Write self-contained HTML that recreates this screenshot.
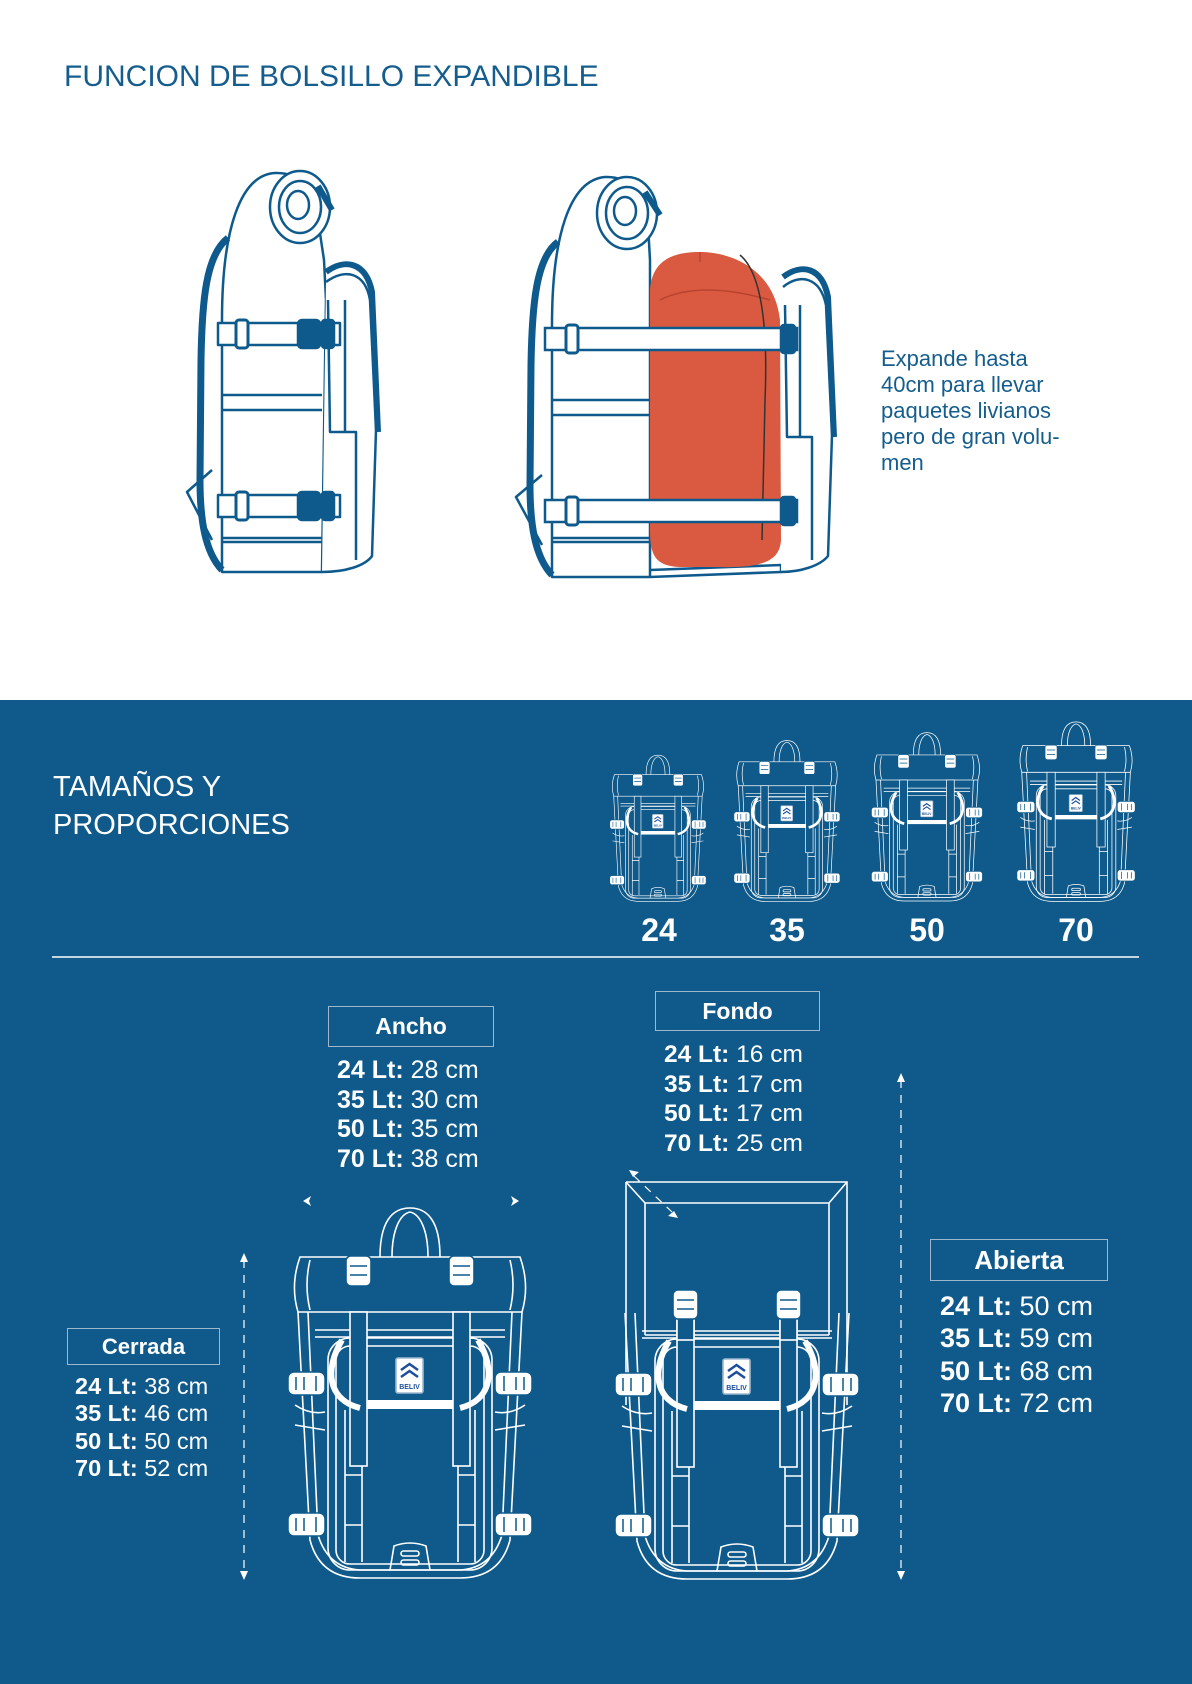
<!DOCTYPE html>
<html><head><meta charset="utf-8"><style>
html,body{margin:0;padding:0;}
body{width:1192px;height:1684px;position:relative;background:#fff;font-family:"Liberation Sans",sans-serif;overflow:hidden;}
.t{position:absolute;white-space:nowrap;}
.blue{position:absolute;left:0;top:700px;width:1192px;height:984px;background:#0f5a8b;}
.box{position:absolute;border:1px solid #9db7cc;color:#fff;font-weight:bold;text-align:center;box-sizing:border-box;}
.lst{position:absolute;color:#fff;white-space:nowrap;}
.lst b{font-weight:bold;}
svg{position:absolute;left:0;top:0;}
</style></head><body>
<div class="t" style="left:64px;top:60px;font-size:30px;color:#155d8d;">FUNCION DE BOLSILLO EXPANDIBLE</div>
<div class="t" style="left:881px;top:346px;font-size:22px;line-height:26px;color:#155d8d;">Expande hasta<br>40cm para llevar<br>paquetes livianos<br>pero de gran volu-<br>men</div>
<div class="blue"></div>

<svg width="1192" height="1684" viewBox="0 0 1192 1684">
<defs>
<g id="body" fill="none" stroke="#fff" stroke-width="1.6">
  <path d="M18,112 L30,340 Q40,378 80,378 L180,378 Q220,378 230,340 L242,112"/>
  <path d="M28,112 L38,335 Q48,368 80,370 L180,370 Q212,368 222,335 L232,112"/>
  <line x1="35" y1="130" x2="225" y2="130"/><line x1="35" y1="137" x2="225" y2="137"/>
  <rect x="48" y="138" width="164" height="232" rx="22"/>
  <rect x="56" y="146" width="148" height="218" rx="14"/>
  <path d="M15,205 Q30,215 45,212 M15,225 L45,230 M245,205 Q230,215 215,212 M245,225 L215,230"/>
  <path d="M65,210 L65,362 M82,210 L82,362 M178,210 L178,362 M195,210 L195,362 M65,275 L82,275 M65,325 L82,325 M178,275 L195,275 M178,325 L195,325"/>
  <rect x="70" y="112" width="17" height="154" fill="#0f5a8b"/>
  <rect x="173" y="112" width="17" height="154" fill="#0f5a8b"/>
  <path d="M62,140 C44,170 48,200 80,208" stroke-width="6"/>
  <path d="M198,140 C216,170 212,200 180,208" stroke-width="6"/>
  <rect x="87" y="200" width="86" height="9" fill="#fff" stroke="none"/>
  <rect x="116" y="158" width="27" height="35" rx="2" fill="#fff" stroke="#9fb8d0"/>
  <path d="M121,170 L129.5,164 L138,170 M121,177 L129.5,171 L138,177" stroke="#1d4f9c" stroke-width="2.5"/>
  <text x="129.5" y="189" font-size="7" font-weight="bold" fill="#1d4f9c" stroke="none" text-anchor="middle" font-family="Liberation Sans,sans-serif">BELIV</text>
  <g fill="#fff" stroke="#0f5a8b" stroke-width="1.5">
   <rect x="8" y="172" width="37" height="23" rx="6"/><rect x="215" y="172" width="37" height="23" rx="6"/>
   <rect x="8" y="313" width="37" height="23" rx="6"/><rect x="215" y="313" width="37" height="23" rx="6"/>
   <path d="M16,177 L16,190 M24,177 L24,190 M36,176 L36,191 M224,176 L224,191 M236,177 L236,190 M244,177 L244,190 M16,318 L16,331 M24,318 L24,331 M36,317 L36,332 M224,317 L224,332 M236,318 L236,331 M244,318 L244,331"/>
  </g>
  <path d="M110,370 L114,346 Q130,340 146,346 L150,370"/>
  <rect x="121" y="351" width="18" height="5" rx="2.5"/><rect x="121" y="360" width="18" height="5" rx="2.5"/>
</g>
<g id="closed">
  <g fill="none" stroke="#fff" stroke-width="1.6">
   <path d="M100,57 C100,22 112,8 130,8 C148,8 160,22 160,57"/>
   <path d="M112,57 C112,30 120,14 130,12 M148,57 C148,30 140,14 130,12"/>
   <path d="M20,57 L240,57 Q250,85 242,112 L18,112 Q10,85 20,57 Z" fill="#0f5a8b"/>
   <path d="M30,60 Q24,85 30,110 M230,60 Q236,85 230,110"/>
  </g>
  <use href="#body"/>
  <g fill="#fff" stroke="#0f5a8b" stroke-width="1.6">
   <rect x="66" y="56" width="25" height="30" rx="5"/><rect x="169" y="56" width="25" height="30" rx="5"/>
   <path d="M70,66 L87,66 M70,75 L87,75 M173,66 L190,66 M173,75 L190,75"/>
  </g>
</g>
</defs>

<g fill="none" stroke="#0f5a8c" stroke-width="2.5" stroke-linejoin="round">
 <path d="M322,572 L222,572 L222,320 C222,230 240,175 275,173 C300,172 315,190 318,220 L324,260 L326,300 L322,572" fill="#fff"/>
 <path d="M228,238 C206,255 202,300 201,360 L200,480 C200,520 205,552 222,570" stroke-width="7"/>
 <path d="M212,470 L187,492 L212,540"/>
 <path d="M322,572 C345,572 365,566 372,556 L376,430 L370,300 C365,272 345,268 326,282" fill="#fff"/>
 <path d="M326,272 C345,258 366,262 372,292 L378,432" stroke-width="6"/>
 <path d="M328,300 L330,432 L345,432 L345,300 M345,432 L356,432 L356,560"/>
 <ellipse cx="300" cy="207" rx="30" ry="36" fill="#fff"/><ellipse cx="300" cy="207" rx="21" ry="26"/><ellipse cx="298" cy="205" rx="11" ry="14"/>
 <path d="M318,186 L332,210" stroke-width="6"/>
 <path d="M222,395 L322,395 M222,410 L322,410 M222,538 L322,538 M222,542 L322,542"/>
 <rect x="218" y="323" width="122" height="22" fill="#fff"/><rect x="218" y="495" width="122" height="22" fill="#fff"/>
 <rect x="236" y="320" width="12" height="28" rx="3" fill="#fff" stroke-width="3"/><rect x="298" y="320" width="22" height="28" rx="4" fill="#0f5a8c"/><rect x="322" y="320" width="12" height="28" rx="3" fill="#0f5a8c"/>
 <rect x="236" y="492" width="12" height="28" rx="3" fill="#fff" stroke-width="3"/><rect x="298" y="492" width="22" height="28" rx="4" fill="#0f5a8c"/><rect x="322" y="492" width="12" height="28" rx="3" fill="#0f5a8c"/>

 <path d="M650,577 L552,577 L552,325 C552,235 570,180 605,177 C630,176 645,195 648,225 L650,260 L650,577" fill="#fff"/>
 <path d="M558,242 C536,258 532,305 531,365 L530,485 C530,525 535,557 552,575" stroke-width="7"/>
 <path d="M542,475 L516,497 L542,545"/>
 <path d="M650,577 L781,572 L781,565 L650,570"/>
 <path d="M781,572 C800,572 820,566 828,556 L832,435 L826,305 C820,277 800,273 783,287" fill="#fff"/>
 <path d="M783,277 C802,263 822,267 828,297 L834,437" stroke-width="6"/>
 <path d="M785,305 L787,437 L800,437 L800,305 M800,437 L812,437 L812,560"/>
 <ellipse cx="627" cy="213" rx="30" ry="36" fill="#fff"/><ellipse cx="627" cy="213" rx="21" ry="26"/><ellipse cx="625" cy="211" rx="11" ry="14"/>
 <path d="M645,192 L660,215" stroke-width="6"/>
 <path d="M552,400 L650,400 M552,415 L650,415 M552,538 L650,538 M552,542 L650,542"/>
</g>
<path d="M650,290 C652,262 670,252 700,252 C730,252 774,268 780,320 L781,540 C780,562 760,568 720,567 L680,567 C655,566 650,555 650,530 Z" fill="#d95a40"/>
<path d="M660,300 Q700,280 770,300 M700,252 L700,262" stroke="#b84430" stroke-width="1.5" fill="none"/>
<path d="M740,255 Q770,280 765,400 L762,540" stroke="#333" stroke-width="1.5" fill="none"/>
<g fill="none" stroke="#0f5a8c" stroke-width="2.5">
 <rect x="545" y="328" width="252" height="22" fill="#fff"/><rect x="545" y="500" width="252" height="22" fill="#fff"/>
 <rect x="566" y="325" width="12" height="28" rx="3" fill="#fff" stroke-width="3"/><rect x="781" y="325" width="14" height="28" rx="3" fill="#0f5a8c"/>
 <rect x="566" y="497" width="12" height="28" rx="3" fill="#fff" stroke-width="3"/><rect x="781" y="497" width="14" height="28" rx="3" fill="#0f5a8c"/>
</g>

<use href="#closed" transform="translate(606.6,752) scale(0.395)"/>
<use href="#closed" transform="translate(730.4,737) scale(0.435)"/>
<use href="#closed" transform="translate(867.8,729) scale(0.455)"/>
<use href="#closed" transform="translate(1013,718) scale(0.485)"/>
<g fill="#fff" font-weight="bold" font-size="32" text-anchor="middle" font-family="Liberation Sans,sans-serif">
 <text x="659" y="941">24</text><text x="787" y="941">35</text><text x="927" y="941">50</text><text x="1076" y="941">70</text>
</g>
<line x1="52" y1="957" x2="1139" y2="957" stroke="#fff" stroke-width="1.5"/>

<use href="#closed" transform="translate(280,1200)"/>
<g transform="translate(600,1170)" fill="none" stroke="#fff" stroke-width="1.6">
 <path d="M26,12 L247,12 L247,235 M26,12 L26,235"/>
 <path d="M26,12 L45,33 L229,33 L247,12 M45,33 L45,165 M229,33 L229,165"/>
 <line x1="45" y1="165" x2="229" y2="165"/>
</g>
<use href="#body" transform="translate(607,1201)"/>
<g transform="translate(600,1170)" fill="#fff" stroke="#0f5a8b" stroke-width="1.6">
 <rect x="77" y="140" width="17" height="30" fill="#0f5a8b" stroke="#fff"/><rect x="180" y="140" width="17" height="30" fill="#0f5a8b" stroke="#fff"/>
 <rect x="73" y="120" width="25" height="29" rx="5"/><rect x="176" y="120" width="25" height="29" rx="5"/>
 <path d="M77,130 L94,130 M77,139 L94,139 M180,130 L197,130 M180,139 L197,139"/>
</g>

<g stroke="#fff" stroke-width="1.2" stroke-dasharray="8,7" fill="none">
 <line x1="244" y1="1260" x2="244" y2="1574"/>
 <line x1="901" y1="1080" x2="901" y2="1574"/>
 <line x1="634" y1="1176" x2="672" y2="1212"/>
</g>
<g fill="#fff">
 <path d="M244,1253 L240,1262 L248,1262 Z"/><path d="M244,1580 L240,1571 L248,1571 Z"/>
 <path d="M901,1073 L897,1082 L905,1082 Z"/><path d="M901,1580 L897,1571 L905,1571 Z"/>
 <path d="M303,1201 L311,1196 L309,1201 L311,1206 Z"/><path d="M519,1201 L511,1196 L513,1201 L511,1206 Z"/>
 <path d="M629,1170 L639,1172 L633,1177 Z"/><path d="M678,1218 L668,1216 L674,1211 Z"/>
</g>
</svg>

<div class="t" style="left:53px;top:768px;font-size:29px;line-height:38px;color:#fff;">TAMAÑOS Y<br>PROPORCIONES</div>

<div class="box" style="left:328px;top:1006px;width:166px;height:41px;font-size:23px;line-height:39px;">Ancho</div>
<div class="lst" style="left:337px;top:1056px;font-size:25px;line-height:29.5px;"><b>24 Lt:</b> 28 cm<br><b>35 Lt:</b> 30 cm<br><b>50 Lt:</b> 35 cm<br><b>70 Lt:</b> 38 cm</div>

<div class="box" style="left:655px;top:991px;width:165px;height:40px;font-size:23px;line-height:38px;">Fondo</div>
<div class="lst" style="left:664px;top:1040px;font-size:24.5px;line-height:29.5px;"><b>24 Lt:</b> 16 cm<br><b>35 Lt:</b> 17 cm<br><b>50 Lt:</b> 17 cm<br><b>70 Lt:</b> 25 cm</div>

<div class="box" style="left:67px;top:1328px;width:153px;height:37px;font-size:22px;line-height:35px;">Cerrada</div>
<div class="lst" style="left:75px;top:1373px;font-size:23.5px;line-height:27.3px;"><b>24 Lt:</b> 38 cm<br><b>35 Lt:</b> 46 cm<br><b>50 Lt:</b> 50 cm<br><b>70 Lt:</b> 52 cm</div>

<div class="box" style="left:930px;top:1239px;width:178px;height:42px;font-size:26px;line-height:40px;">Abierta</div>
<div class="lst" style="left:940px;top:1290px;font-size:27px;line-height:32.3px;"><b>24 Lt:</b> 50 cm<br><b>35 Lt:</b> 59 cm<br><b>50 Lt:</b> 68 cm<br><b>70 Lt:</b> 72 cm</div>
</body></html>
